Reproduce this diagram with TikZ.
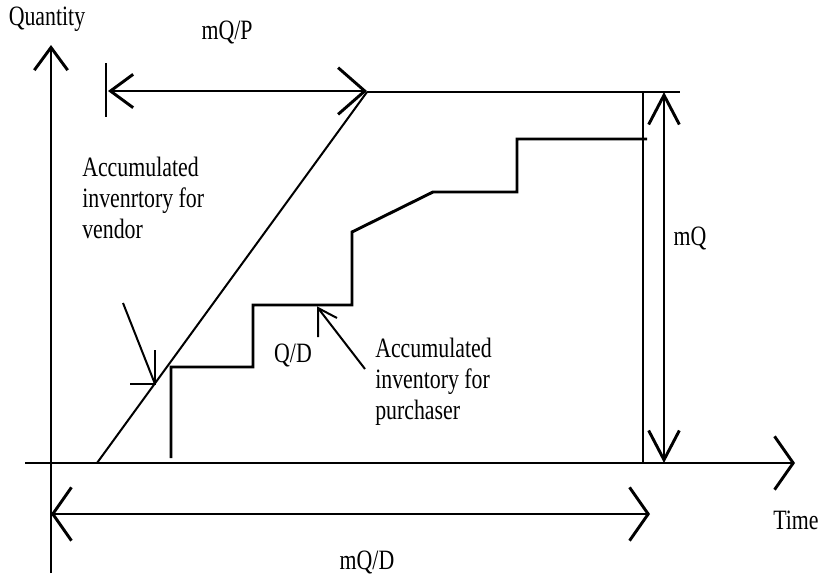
\documentclass[tikz,border=0pt]{standalone}
\usepackage{fontspec}
\newfontfamily\plotfont[FakeStretch=0.78]{Liberation Serif}
\usepackage{tikz}
\usetikzlibrary{arrows.meta}

\tikzset{
  ytip/.tip={Straight Barb[length=17pt,width=25pt]},
  wtip/.tip={Straight Barb[length=14pt,width=40pt]},
  ptip/.tip={Straight Barb[length=20pt,width=35pt]},
  qtip/.tip={Straight Barb[length=22pt,width=23pt]}
}

\begin{document}
\begin{tikzpicture}[
  x=0.75pt, y=-0.75pt,
  font=\plotfont\fontsize{21}{23.25}\selectfont,
  lbl/.style={inner sep=0pt},
  txt/.style={inner sep=0pt, align=left, anchor=north west},
  heavy/.style={line width=2.2pt},
  light/.style={line width=1.5pt}
]
  \useasboundingbox (0,0) rectangle (819,576);

  % axes
  \coordinate (ybot) at (51,573);
  \coordinate (ytop) at (51,45);
  \coordinate (xleft) at (25,463);
  \coordinate (xright) at (795,463);
  \draw[heavy, -ytip] (ybot) -- (ytop);
  \draw[heavy, -wtip] (xleft) -- (xright);
  \node[lbl] (qty) at (47,19) {Quantity};
  \node[lbl] (time) at (796,520) {Time};

  % production run of the vendor
  \coordinate (vstart) at (97,463);
  \coordinate (vpeak) at (367,92);
  \coordinate (topend) at (680,92);
  \draw[light] (vstart) -- (vpeak);
  \draw[heavy] (vpeak) -- (topend);
  \draw[heavy] (643,92) -- (643,463);

  % mQ/P
  \draw[heavy] (106,63) -- (106,117);
  \coordinate (pl) at (108,91);
  \coordinate (pr) at (367,91);
  \draw[heavy, ytip-ptip] (pl) -- (pr);
  \node[lbl] (mqp) at (227,32) {mQ/P};

  % mQ
  \coordinate (qt) at (664,92);
  \coordinate (qb) at (664,463);
  \draw[heavy, qtip-qtip] (qt) -- (qb);
  \node[lbl] (mq) at (690,238) {mQ};

  % mQ/D
  \coordinate (dl) at (51,514);
  \coordinate (dr) at (650,514);
  \draw[heavy, wtip-wtip] (dl) -- (dr);
  \node[lbl] (mqd) at (367,562) {mQ/D};

  % purchaser steps
  \draw[heavy] (171,458) -- (171,367) -- (253,367) -- (253,305) -- (352,305)
    -- (352,232) -- (433,192) -- (517,192) -- (517,139) -- (647,139);

  % vendor label
  \node[txt] (vendor) at (82,157) {Accumulated\\invenrtory for\\vendor};
  \coordinate (vtip) at (155,384);
  \draw[light] (123,303) -- (vtip);
  \draw[light] (155,350) -- (vtip) -- (130,384);

  % purchaser label
  \node[txt] (buyer) at (375,338) {Accumulated\\inventory for\\purchaser};
  \node[lbl] (qd) at (293,355) {Q/D};
  \coordinate (btip) at (318,308);
  \draw[light] (365,369) -- (btip);
  \draw[light] (318,337) -- (btip) -- (337,318);
\end{tikzpicture}
\end{document}
